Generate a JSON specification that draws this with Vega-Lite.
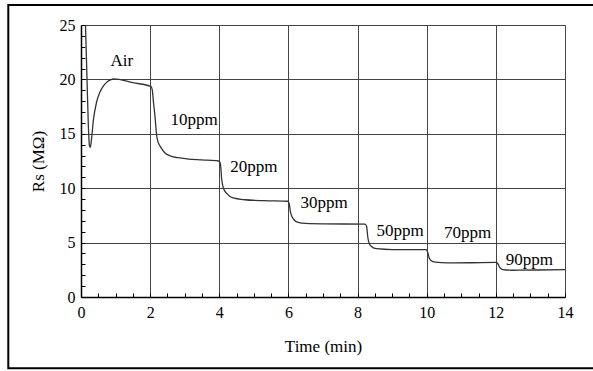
{
  "$schema": "https://vega.github.io/schema/vega-lite/v6.json",
  "autosize": {"type": "none"},
  "width": 484,
  "height": 272,
  "padding": {"left": 81, "top": 25, "right": 28, "bottom": 74},
  "background": "white",
  "config": {
    "view": {"stroke": null},
    "font": "Liberation Serif"
  },
  "datasets": {
    "curve": [
      {"t": 0.13, "rs": 25}, {"t": 0.17, "rs": 20.5}, {"t": 0.21, "rs": 16.0}, {"t": 0.245, "rs": 13.9},
      {"t": 0.27, "rs": 13.75}, {"t": 0.3, "rs": 14.4}, {"t": 0.36, "rs": 16.3}, {"t": 0.45, "rs": 17.9},
      {"t": 0.55, "rs": 18.85}, {"t": 0.65, "rs": 19.4}, {"t": 0.75, "rs": 19.75}, {"t": 0.85, "rs": 19.95},
      {"t": 0.95, "rs": 20.05}, {"t": 1.1, "rs": 20.0}, {"t": 1.5, "rs": 19.7}, {"t": 2.02, "rs": 19.35},
      {"t": 2.06, "rs": 19.05}, {"t": 2.1, "rs": 17.8}, {"t": 2.14, "rs": 16.6}, {"t": 2.19, "rs": 14.8},
      {"t": 2.24, "rs": 14.15}, {"t": 2.3, "rs": 13.8}, {"t": 2.43, "rs": 13.23}, {"t": 2.6, "rs": 12.95},
      {"t": 2.8, "rs": 12.8}, {"t": 3.1, "rs": 12.68}, {"t": 3.5, "rs": 12.6}, {"t": 3.98, "rs": 12.5},
      {"t": 4.03, "rs": 12.3}, {"t": 4.07, "rs": 10.8}, {"t": 4.12, "rs": 10.0}, {"t": 4.22, "rs": 9.5},
      {"t": 4.4, "rs": 9.1}, {"t": 4.74, "rs": 8.94}, {"t": 5.3, "rs": 8.85}, {"t": 5.98, "rs": 8.8},
      {"t": 6.02, "rs": 8.6}, {"t": 6.06, "rs": 7.8}, {"t": 6.1, "rs": 7.4}, {"t": 6.16, "rs": 7.1},
      {"t": 6.28, "rs": 6.86}, {"t": 6.5, "rs": 6.76}, {"t": 7.0, "rs": 6.72}, {"t": 8.22, "rs": 6.7},
      {"t": 8.26, "rs": 6.5}, {"t": 8.3, "rs": 5.4}, {"t": 8.34, "rs": 4.9}, {"t": 8.4, "rs": 4.65},
      {"t": 8.55, "rs": 4.44}, {"t": 9.0, "rs": 4.36}, {"t": 9.98, "rs": 4.35}, {"t": 10.03, "rs": 4.1},
      {"t": 10.07, "rs": 3.6}, {"t": 10.12, "rs": 3.35}, {"t": 10.25, "rs": 3.2}, {"t": 10.6, "rs": 3.13},
      {"t": 11.3, "rs": 3.15}, {"t": 12.02, "rs": 3.18}, {"t": 12.07, "rs": 3.0}, {"t": 12.11, "rs": 2.72},
      {"t": 12.2, "rs": 2.52}, {"t": 12.5, "rs": 2.46}, {"t": 13.2, "rs": 2.48}, {"t": 14.0, "rs": 2.51}
    ],
    "labels": [
      {"label": "Air", "t": 1.18, "rs": 21.2},
      {"label": "10ppm", "t": 3.27, "rs": 15.84},
      {"label": "20ppm", "t": 5.0, "rs": 11.52},
      {"label": "30ppm", "t": 7.03, "rs": 8.21},
      {"label": "50ppm", "t": 9.23, "rs": 5.63},
      {"label": "70ppm", "t": 11.18, "rs": 5.45},
      {"label": "90ppm", "t": 12.97, "rs": 2.97}
    ],
    "frame": [{"t": -2.103, "t2": 15.3, "rs": -6.553, "rs2": 26.84}]
  },
  "encoding": {
    "x": {
      "field": "t", "type": "quantitative",
      "scale": {"domain": [0, 14], "nice": false},
      "axis": {
        "values": [0,0.5,1,1.5,2,2.5,3,3.5,4,4.5,5,5.5,6,6.5,7,7.5,8,8.5,9,9.5,10,10.5,11,11.5,12,12.5,13,13.5,14],
        "labelExpr": "datum.value % 2 === 0 ? datum.value : ''",
        "grid": true,
        "gridColor": "#444444",
        "gridWidth": 1,
        "gridOpacity": {"condition": {"test": "datum.value % 2 === 0", "value": 1}, "value": 0},
        "ticks": true,
        "tickSize": -4,
        "tickColor": "black",
        "tickWidth": 1,
        "domainColor": "black",
        "domainWidth": 1.5,
        "labelFont": "Liberation Serif",
        "labelFontSize": 16,
        "labelColor": "black",
        "labelPadding": 11,
        "labelFlush": false,
        "labelOverlap": false,
        "title": "Time (min)",
        "titleFont": "Liberation Serif",
        "titleFontSize": 17,
        "titleFontWeight": "normal",
        "titleColor": "black",
        "titlePadding": 18
      }
    },
    "y": {
      "field": "rs", "type": "quantitative",
      "scale": {"domain": [0, 25], "nice": false},
      "axis": {
        "values": [0,1,2,3,4,5,6,7,8,9,10,11,12,13,14,15,16,17,18,19,20,21,22,23,24,25],
        "labelExpr": "datum.value % 5 === 0 ? datum.value : ''",
        "grid": true,
        "gridColor": "#444444",
        "gridWidth": 1,
        "gridOpacity": {"condition": {"test": "datum.value % 5 === 0", "value": 1}, "value": 0},
        "ticks": true,
        "tickSize": -4,
        "tickColor": "black",
        "tickWidth": 1,
        "domainColor": "black",
        "domainWidth": 1.5,
        "labelFont": "Liberation Serif",
        "labelFontSize": 16,
        "labelColor": "black",
        "labelPadding": 10,
        "labelFlush": false,
        "labelOverlap": false,
        "title": "Rs (MΩ)",
        "titleFont": "Liberation Serif",
        "titleFontSize": 17,
        "titleFontWeight": "normal",
        "titleColor": "black",
        "titlePadding": 12
      }
    }
  },
  "layer": [
    {
      "data": {"name": "curve"},
      "mark": {"type": "line", "color": "#333333", "strokeWidth": 1.3, "clip": true, "interpolate": "monotone"}
    },
    {
      "data": {"name": "labels"},
      "mark": {"type": "text", "font": "Liberation Serif", "fontSize": 17, "color": "black", "align": "center", "baseline": "alphabetic"},
      "encoding": {
        "text": {"field": "label"}
      }
    },
    {
      "data": {"name": "frame"},
      "mark": {"type": "rect", "fill": null, "stroke": "black", "strokeWidth": 2, "clip": false},
      "encoding": {
        "x2": {"field": "t2"},
        "y2": {"field": "rs2"}
      }
    }
  ]
}
